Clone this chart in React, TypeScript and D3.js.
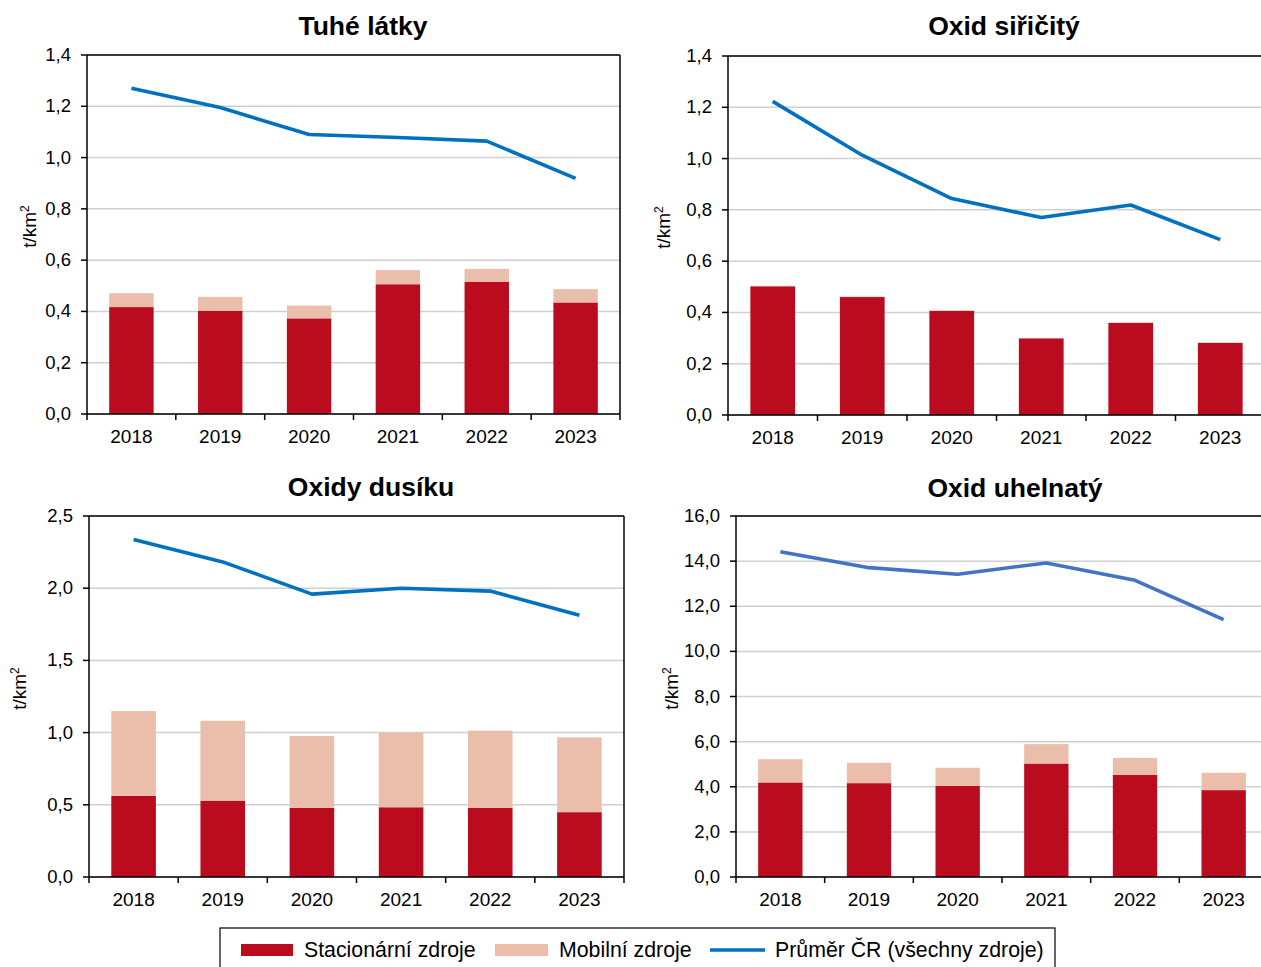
import * as d3 from "d3";

const years = ["2018", "2019", "2020", "2021", "2022", "2023"];

// Tuhé látky
const tlStat = [0.417, 0.403, 0.373, 0.506, 0.516, 0.435];
const tlMob = [0.054, 0.054, 0.05, 0.055, 0.05, 0.052];
const tlAvg = [1.27, 1.195, 1.09, 1.078, 1.064, 0.919];

// Oxid siřičitý
const so2Stat = [0.502, 0.46, 0.406, 0.299, 0.359, 0.281];
const so2Mob = [0.002, 0.002, 0.002, 0.001, 0.002, 0.002];
const so2Avg = [1.223, 1.013, 0.844, 0.77, 0.819, 0.684];

// Oxidy dusíku
const noxStat = [0.562, 0.529, 0.479, 0.483, 0.479, 0.449];
const noxMob = [0.587, 0.553, 0.497, 0.516, 0.534, 0.518];
const noxAvg = [2.337, 2.182, 1.959, 2.0, 1.98, 1.812];

// Oxid uhelnatý
const coStat = [4.19, 4.16, 4.04, 5.03, 4.52, 3.85];
const coMob = [1.03, 0.9, 0.8, 0.86, 0.76, 0.77];
const coAvg = [14.42, 13.71, 13.42, 13.92, 13.15, 11.41];

const legendLabels = ["Stacionární zdroje", "Mobilní zdroje", "Průměr ČR (všechny zdroje)"];

const RED = "#BA0B1F";
const PINK = "#EBBDAB";
const BLUE = "#0070C0";
const BLUE2 = "#4472C4";
const FONT = "'Liberation Sans', Arial, sans-serif";

type PanelProps = {
  title: string;
  stat: number[];
  mob: number[];
  avg: number[];
  max: number;
  step: number;
  left: number;
  top: number;
  width: number;
  height: number;
  titleX: number;
  titleY: number;
  labelX: number;
  lineColor: string;
};

function Panel(p: PanelProps) {
  const x = d3.scaleBand().domain(years).range([p.left, p.left + p.width]);
  const y = d3.scaleLinear().domain([0, p.max]).range([p.top + p.height, p.top]);
  const ticks = d3.range(0, p.max + p.step / 2, p.step);
  const bw = x.bandwidth() * 0.5;
  const cx = (yr: string) => x(yr)! + x.bandwidth() / 2;
  const line = d3
    .line<number>()
    .x((_, i) => cx(years[i]))
    .y((d) => y(d));
  const bottom = p.top + p.height;
  const right = p.left + p.width;

  return (
    <g>
      <text x={p.titleX} y={p.titleY} textAnchor="middle" fontSize={26.5} fontWeight="bold" fontFamily={FONT}>
        {p.title}
      </text>
      {ticks.map((t) => (
        <line key={"g" + t} x1={p.left} x2={right} y1={y(t)} y2={y(t)} stroke="#d0d0d0" strokeWidth={1.5} />
      ))}
      {years.map((yr, i) => (
        <g key={yr}>
          <rect x={cx(yr) - bw / 2} width={bw} y={y(p.stat[i])} height={bottom - y(p.stat[i])} fill={RED} />
          <rect
            x={cx(yr) - bw / 2}
            width={bw}
            y={y(p.stat[i] + p.mob[i])}
            height={y(p.stat[i]) - y(p.stat[i] + p.mob[i])}
            fill={PINK}
          />
        </g>
      ))}
      <path d={line(p.avg)!} fill="none" stroke={p.lineColor} strokeWidth={3.6} strokeLinejoin="round" />
      {/* frame */}
      <line x1={p.left} x2={right} y1={p.top} y2={p.top} stroke="#000" strokeWidth={1.5} />
      <line x1={right} x2={right} y1={p.top} y2={bottom} stroke="#000" strokeWidth={1.5} />
      <line x1={p.left} x2={p.left} y1={p.top} y2={bottom} stroke="#000" strokeWidth={1.5} />
      <line x1={p.left} x2={right} y1={bottom} y2={bottom} stroke="#000" strokeWidth={1.5} />
      {ticks.map((t) => (
        <g key={"t" + t}>
          <line x1={p.left - 6} x2={p.left} y1={y(t)} y2={y(t)} stroke="#000" strokeWidth={1.5} />
          <text x={p.left - 16} y={y(t) + 6} textAnchor="end" fontSize={18.5} fontFamily={FONT}>
            {t.toFixed(1).replace(".", ",")}
          </text>
        </g>
      ))}
      {years.concat([""]).map((yr, i) => {
        const xx = p.left + i * x.step();
        return <line key={"x" + i} x1={xx} x2={xx} y1={bottom} y2={bottom + 6} stroke="#000" strokeWidth={1.5} />;
      })}
      {years.map((yr) => (
        <text key={"l" + yr} x={cx(yr)} y={bottom + 29} textAnchor="middle" fontSize={19} fontFamily={FONT}>
          {yr}
        </text>
      ))}
      <text
        transform={`translate(${p.labelX},${p.top + p.height / 2 - 8}) rotate(-90)`}
        textAnchor="middle"
        fontSize={19}
        fontFamily={FONT}
      >
        t/km
        <tspan fontSize={12} dy={-7}>
          2
        </tspan>
      </text>
    </g>
  );
}

export default function App() {
  return (
    <div style={{ position: "absolute", left: 0, top: 0 }}>
      <svg width={1261} height={967} style={{ display: "block", background: "#fff" }}>
        <Panel title="Tuhé látky" stat={tlStat} mob={tlMob} avg={tlAvg} max={1.4} step={0.2}
          left={87} top={55} width={533} height={359} titleX={363} titleY={35} labelX={36} lineColor={BLUE} />
        <Panel title="Oxid siřičitý" stat={so2Stat} mob={so2Mob} avg={so2Avg} max={1.4} step={0.2}
          left={728} top={56} width={537} height={359} titleX={1004} titleY={35} labelX={670} lineColor={BLUE} />
        <Panel title="Oxidy dusíku" stat={noxStat} mob={noxMob} avg={noxAvg} max={2.5} step={0.5}
          left={89} top={516} width={535} height={361} titleX={371} titleY={496} labelX={26} lineColor={BLUE} />
        <Panel title="Oxid uhelnatý" stat={coStat} mob={coMob} avg={coAvg} max={16} step={2}
          left={736} top={516} width={532} height={361} titleX={1015} titleY={497} labelX={678} lineColor={BLUE2} />
        {/* legend */}
        <rect x={220} y={928} width={835} height={50} fill="#fff" stroke="#000" strokeWidth={1.2} />
        <rect x={241} y={944} width={52} height={12} fill={RED} />
        <text x={304} y={957} fontSize={21.3} fontFamily={FONT}>{legendLabels[0]}</text>
        <rect x={495} y={944} width={53} height={12} fill={PINK} />
        <text x={559} y={957} fontSize={21.3} fontFamily={FONT}>{legendLabels[1]}</text>
        <line x1={710} x2={765} y1={950} y2={950} stroke={BLUE} strokeWidth={3.6} />
        <text x={775} y={957} fontSize={21.3} fontFamily={FONT}>{legendLabels[2]}</text>
      </svg>
    </div>
  );
}
